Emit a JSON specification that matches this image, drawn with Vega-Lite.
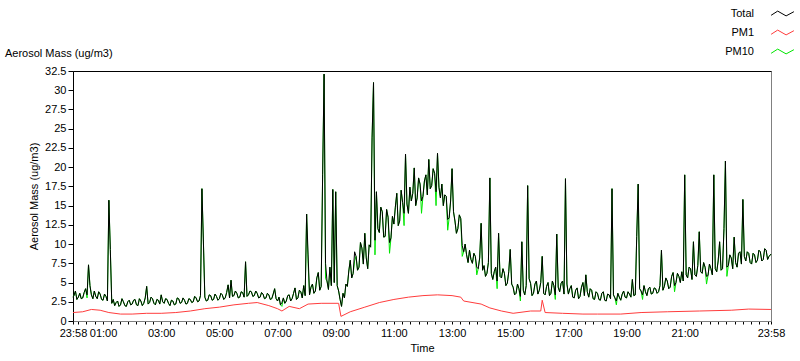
{
  "$schema": "https://vega.github.io/schema/vega-lite/v6.json",
  "autosize": "none",
  "width": 698,
  "height": 250,
  "padding": {"left": 73, "top": 71, "right": 29, "bottom": 40},
  "background": "white",
  "title": {"text": "Aerosol Mass (ug/m3)", "anchor": "start", "frame": "group", "dx": -68, "offset": -52, "fontSize": 11, "fontWeight": "normal", "font": "Liberation Sans", "color": "black"},
  "datasets": {
    "main": [
      {"t":-0.033,"a":3.1,"b":3.1},
      {"t":0.0,"a":3.3,"b":3.3},{"t":0.05,"a":3.9,"b":3.9},{"t":0.1,"a":2.8,"b":2.8},{"t":0.15,"a":3.1,"b":3.1},{"t":0.2,"a":3.6,"b":3.6},{"t":0.25,"a":2.9,"b":2.9},{"t":0.3,"a":3.0,"b":3.0},{"t":0.35,"a":3.7,"b":3.7},{"t":0.4,"a":4.2,"b":4.2},{"t":0.45,"a":3.4,"b":3.0},
      {"t":0.5,"a":7.3,"b":7.3},{"t":0.55,"a":4.6,"b":4.6},{"t":0.6,"a":3.4,"b":3.4},{"t":0.65,"a":2.9,"b":2.9},{"t":0.7,"a":3.9,"b":3.9},{"t":0.75,"a":3.2,"b":3.2},{"t":0.8,"a":2.9,"b":2.9},{"t":0.85,"a":3.8,"b":3.8},{"t":0.9,"a":3.5,"b":3.5},{"t":0.95,"a":2.8,"b":2.8},
      {"t":1.0,"a":2.7,"b":2.7},{"t":1.05,"a":3.5,"b":3.5},{"t":1.1,"a":3.2,"b":3.2},{"t":1.15,"a":2.6,"b":2.6},{"t":1.2,"a":15.7,"b":15.7},{"t":1.25,"a":9.3,"b":9.3},{"t":1.3,"a":2.3,"b":2.3},{"t":1.35,"a":2.8,"b":2.8},{"t":1.4,"a":2.0,"b":2.0},{"t":1.45,"a":2.4,"b":2.4},
      {"t":1.5,"a":2.6,"b":2.6},{"t":1.55,"a":1.9,"b":1.9},{"t":1.6,"a":2.1,"b":2.1},{"t":1.65,"a":2.9,"b":2.9},{"t":1.7,"a":2.5,"b":2.5},{"t":1.75,"a":2.0,"b":2.0},{"t":1.8,"a":1.9,"b":1.9},{"t":1.85,"a":2.5,"b":2.5},{"t":1.9,"a":2.7,"b":2.7},{"t":1.95,"a":2.1,"b":2.1},
      {"t":2.0,"a":2.2,"b":2.2},{"t":2.05,"a":2.7,"b":2.7},{"t":2.1,"a":2.8,"b":2.8},{"t":2.15,"a":2.1,"b":2.1},{"t":2.2,"a":2.0,"b":2.0},{"t":2.25,"a":2.9,"b":2.9},{"t":2.3,"a":2.6,"b":2.6},{"t":2.35,"a":2.0,"b":2.0},{"t":2.4,"a":2.3,"b":2.3},{"t":2.45,"a":3.0,"b":3.0},
      {"t":2.5,"a":4.5,"b":4.5},{"t":2.55,"a":2.2,"b":2.2},{"t":2.6,"a":2.4,"b":2.4},{"t":2.65,"a":3.1,"b":3.1},{"t":2.7,"a":2.9,"b":2.9},{"t":2.75,"a":2.3,"b":2.3},{"t":2.8,"a":2.1,"b":2.1},{"t":2.85,"a":2.8,"b":2.8},{"t":2.9,"a":2.7,"b":2.7},{"t":2.95,"a":2.2,"b":2.2},
      {"t":3.0,"a":3.4,"b":3.4},{"t":3.05,"a":2.5,"b":2.5},{"t":3.1,"a":2.3,"b":2.3},{"t":3.15,"a":2.9,"b":2.9},{"t":3.2,"a":2.8,"b":2.8},{"t":3.25,"a":2.3,"b":2.3},{"t":3.3,"a":2.0,"b":2.0},{"t":3.35,"a":2.7,"b":2.7},{"t":3.4,"a":2.6,"b":2.6},{"t":3.45,"a":2.1,"b":2.1},
      {"t":3.5,"a":2.2,"b":2.2},{"t":3.55,"a":3.0,"b":3.0},{"t":3.6,"a":2.9,"b":2.9},{"t":3.65,"a":2.3,"b":2.3},{"t":3.7,"a":2.4,"b":2.4},{"t":3.75,"a":3.0,"b":3.0},{"t":3.8,"a":2.7,"b":2.7},{"t":3.85,"a":2.2,"b":2.2},{"t":3.9,"a":2.3,"b":2.3},{"t":3.95,"a":2.9,"b":2.9},
      {"t":4.0,"a":2.8,"b":2.8},{"t":4.05,"a":2.4,"b":2.4},{"t":4.1,"a":2.5,"b":2.5},{"t":4.15,"a":3.2,"b":3.2},{"t":4.2,"a":3.0,"b":3.0},{"t":4.25,"a":2.5,"b":2.5},{"t":4.3,"a":2.6,"b":2.6},{"t":4.35,"a":3.3,"b":3.3},{"t":4.4,"a":17.2,"b":17.2},{"t":4.45,"a":10.4,"b":10.4},
      {"t":4.5,"a":3.1,"b":3.1},{"t":4.55,"a":2.6,"b":2.6},{"t":4.6,"a":2.7,"b":2.7},{"t":4.65,"a":3.4,"b":3.4},{"t":4.7,"a":3.3,"b":3.3},{"t":4.75,"a":2.7,"b":2.7},{"t":4.8,"a":2.8,"b":2.8},{"t":4.85,"a":3.5,"b":3.5},{"t":4.9,"a":3.2,"b":3.2},{"t":4.95,"a":2.7,"b":2.7},
      {"t":5.0,"a":2.9,"b":2.9},{"t":5.05,"a":3.6,"b":3.6},{"t":5.1,"a":3.4,"b":3.4},{"t":5.15,"a":2.8,"b":2.8},{"t":5.2,"a":3.0,"b":3.0},{"t":5.25,"a":3.7,"b":3.7},{"t":5.3,"a":4.7,"b":4.7},{"t":5.35,"a":3.0,"b":3.0},{"t":5.4,"a":5.3,"b":5.3},{"t":5.45,"a":3.2,"b":3.2},
      {"t":5.5,"a":3.3,"b":3.3},{"t":5.55,"a":3.9,"b":3.9},{"t":5.6,"a":3.6,"b":3.6},{"t":5.65,"a":3.0,"b":3.0},{"t":5.7,"a":3.1,"b":3.1},{"t":5.75,"a":3.8,"b":3.8},{"t":5.8,"a":3.7,"b":3.7},{"t":5.85,"a":3.1,"b":3.1},{"t":5.9,"a":7.7,"b":7.7},{"t":5.95,"a":3.2,"b":3.2},
      {"t":6.0,"a":3.4,"b":3.4},{"t":6.05,"a":3.9,"b":3.9},{"t":6.1,"a":3.8,"b":3.8},{"t":6.15,"a":3.2,"b":3.2},{"t":6.2,"a":3.3,"b":3.3},{"t":6.25,"a":3.9,"b":3.9},{"t":6.3,"a":3.6,"b":3.6},{"t":6.35,"a":3.0,"b":3.0},{"t":6.4,"a":3.1,"b":3.1},{"t":6.45,"a":3.7,"b":3.7},
      {"t":6.5,"a":3.5,"b":3.5},{"t":6.55,"a":2.9,"b":2.9},{"t":6.6,"a":3.0,"b":3.0},{"t":6.65,"a":3.6,"b":3.6},{"t":6.7,"a":3.4,"b":3.4},{"t":6.75,"a":2.8,"b":2.8},{"t":6.8,"a":2.9,"b":2.9},{"t":6.85,"a":3.5,"b":3.5},{"t":6.9,"a":4.2,"b":4.2},{"t":6.95,"a":2.9,"b":2.9},
      {"t":7.0,"a":2.6,"b":2.6},{"t":7.05,"a":3.1,"b":3.1},{"t":7.1,"a":2.1,"b":2.1},{"t":7.15,"a":2.4,"b":1.9},{"t":7.2,"a":3.0,"b":3.0},{"t":7.25,"a":2.3,"b":2.3},{"t":7.3,"a":2.6,"b":2.6},{"t":7.35,"a":3.3,"b":3.3},{"t":7.4,"a":3.4,"b":3.4},{"t":7.45,"a":2.6,"b":2.6},
      {"t":7.5,"a":2.9,"b":2.9},{"t":7.55,"a":3.6,"b":3.6},{"t":7.6,"a":4.3,"b":4.3},{"t":7.65,"a":2.8,"b":2.8},{"t":7.7,"a":3.0,"b":3.0},{"t":7.75,"a":4.0,"b":4.0},{"t":7.8,"a":3.8,"b":3.8},{"t":7.85,"a":3.0,"b":3.0},{"t":7.9,"a":4.6,"b":4.6},{"t":7.95,"a":3.3,"b":3.3},
      {"t":8.0,"a":13.9,"b":13.9},{"t":8.05,"a":8.7,"b":7.5},{"t":8.1,"a":3.4,"b":3.4},{"t":8.15,"a":4.4,"b":4.4},{"t":8.2,"a":4.8,"b":4.8},{"t":8.25,"a":3.6,"b":3.6},{"t":8.3,"a":3.9,"b":3.9},{"t":8.35,"a":5.6,"b":5.6},{"t":8.4,"a":6.3,"b":6.3},{"t":8.45,"a":4.0,"b":4.0},
      {"t":8.5,"a":4.5,"b":4.5},{"t":8.55,"a":19.0,"b":19.0},{"t":8.6,"a":32.1,"b":32.1},{"t":8.65,"a":7.5,"b":5.5},{"t":8.7,"a":5.2,"b":5.2},{"t":8.75,"a":4.1,"b":4.1},{"t":8.8,"a":7.0,"b":7.0},{"t":8.85,"a":4.6,"b":4.6},{"t":8.9,"a":17.1,"b":17.1},{"t":8.95,"a":5.0,"b":5.0},
      {"t":9.0,"a":16.8,"b":16.8},{"t":9.05,"a":4.6,"b":4.6},{"t":9.1,"a":3.9,"b":3.9},{"t":9.15,"a":2.8,"b":2.8},{"t":9.2,"a":1.9,"b":1.9},{"t":9.25,"a":3.6,"b":3.6},{"t":9.3,"a":3.0,"b":3.0},{"t":9.35,"a":4.8,"b":4.8},{"t":9.4,"a":4.5,"b":4.5},{"t":9.45,"a":6.5,"b":6.5},
      {"t":9.5,"a":7.9,"b":7.9},{"t":9.55,"a":5.6,"b":5.6},{"t":9.6,"a":6.2,"b":6.2},{"t":9.65,"a":9.0,"b":7.8},{"t":9.7,"a":8.4,"b":8.4},{"t":9.75,"a":6.6,"b":6.6},{"t":9.8,"a":7.0,"b":7.0},{"t":9.85,"a":10.2,"b":10.2},{"t":9.9,"a":9.5,"b":9.5},{"t":9.95,"a":7.4,"b":7.4},
      {"t":10.0,"a":11.4,"b":11.4},{"t":10.05,"a":8.2,"b":8.2},{"t":10.1,"a":6.8,"b":6.8},{"t":10.15,"a":9.9,"b":9.9},{"t":10.2,"a":9.6,"b":9.6},{"t":10.25,"a":23.8,"b":23.8},{"t":10.3,"a":31.0,"b":31.0},{"t":10.35,"a":10.5,"b":8.6},{"t":10.4,"a":16.8,"b":16.8},{"t":10.45,"a":12.0,"b":12.0},
      {"t":10.5,"a":11.5,"b":11.5},{"t":10.55,"a":14.8,"b":14.8},{"t":10.6,"a":14.2,"b":14.2},{"t":10.65,"a":10.9,"b":10.9},{"t":10.7,"a":11.0,"b":11.0},{"t":10.75,"a":14.5,"b":14.5},{"t":10.8,"a":13.5,"b":13.5},{"t":10.85,"a":10.2,"b":8.8},{"t":10.9,"a":10.8,"b":10.8},{"t":10.95,"a":13.6,"b":13.6},
      {"t":11.0,"a":12.6,"b":12.6},{"t":11.05,"a":14.8,"b":14.8},{"t":11.1,"a":16.6,"b":16.6},{"t":11.15,"a":12.4,"b":12.4},{"t":11.2,"a":13.0,"b":13.0},{"t":11.25,"a":17.0,"b":17.0},{"t":11.3,"a":15.4,"b":15.4},{"t":11.35,"a":14.0,"b":12.4},{"t":11.4,"a":21.7,"b":21.7},{"t":11.45,"a":15.2,"b":15.2},
      {"t":11.5,"a":14.0,"b":14.0},{"t":11.55,"a":17.4,"b":17.4},{"t":11.6,"a":15.6,"b":15.6},{"t":11.65,"a":16.6,"b":16.6},{"t":11.7,"a":19.9,"b":19.9},{"t":11.75,"a":15.0,"b":15.0},{"t":11.8,"a":16.0,"b":16.0},{"t":11.85,"a":18.6,"b":18.6},{"t":11.9,"a":17.8,"b":17.8},{"t":11.95,"a":15.6,"b":14.0},
      {"t":12.0,"a":16.2,"b":16.2},{"t":12.05,"a":18.2,"b":18.2},{"t":12.1,"a":19.0,"b":19.0},{"t":12.15,"a":16.4,"b":16.4},{"t":12.2,"a":21.0,"b":21.0},{"t":12.25,"a":17.2,"b":17.2},{"t":12.3,"a":17.6,"b":17.6},{"t":12.35,"a":19.8,"b":19.8},{"t":12.4,"a":19.2,"b":19.2},{"t":12.45,"a":16.8,"b":15.0},
      {"t":12.5,"a":21.8,"b":21.8},{"t":12.55,"a":17.4,"b":17.4},{"t":12.6,"a":16.0,"b":16.0},{"t":12.65,"a":17.8,"b":17.8},{"t":12.7,"a":15.0,"b":15.0},{"t":12.75,"a":16.4,"b":16.4},{"t":12.8,"a":16.2,"b":16.2},{"t":12.85,"a":13.2,"b":11.8},{"t":12.9,"a":13.4,"b":13.4},{"t":12.95,"a":15.6,"b":15.6},
      {"t":13.0,"a":19.8,"b":19.8},{"t":13.05,"a":14.2,"b":14.2},{"t":13.1,"a":13.0,"b":13.0},{"t":13.15,"a":11.4,"b":11.4},{"t":13.2,"a":12.0,"b":12.0},{"t":13.25,"a":13.8,"b":13.8},{"t":13.3,"a":13.3,"b":13.3},{"t":13.35,"a":9.8,"b":8.4},{"t":13.4,"a":9.0,"b":9.0},{"t":13.45,"a":10.0,"b":10.0},
      {"t":13.5,"a":8.6,"b":8.6},{"t":13.55,"a":7.6,"b":7.6},{"t":13.6,"a":9.2,"b":9.2},{"t":13.65,"a":8.0,"b":8.0},{"t":13.7,"a":7.5,"b":7.5},{"t":13.75,"a":8.8,"b":8.8},{"t":13.8,"a":8.4,"b":8.4},{"t":13.85,"a":7.0,"b":6.0},{"t":13.9,"a":6.8,"b":6.8},{"t":13.95,"a":8.2,"b":8.2},
      {"t":14.0,"a":12.7,"b":12.7},{"t":14.05,"a":6.6,"b":6.6},{"t":14.1,"a":7.2,"b":7.2},{"t":14.15,"a":5.8,"b":5.8},{"t":14.2,"a":6.2,"b":6.2},{"t":14.25,"a":7.6,"b":7.6},{"t":14.3,"a":18.6,"b":18.6},{"t":14.35,"a":6.2,"b":6.2},{"t":14.4,"a":5.4,"b":5.4},{"t":14.45,"a":6.4,"b":6.4},
      {"t":14.5,"a":7.0,"b":7.0},{"t":14.55,"a":5.2,"b":4.2},{"t":14.6,"a":11.4,"b":11.4},{"t":14.65,"a":5.8,"b":5.8},{"t":14.7,"a":5.6,"b":5.6},{"t":14.75,"a":6.8,"b":6.8},{"t":14.8,"a":6.2,"b":6.2},{"t":14.85,"a":4.6,"b":4.6},{"t":14.9,"a":4.9,"b":4.9},{"t":14.95,"a":6.4,"b":6.4},
      {"t":15.0,"a":9.3,"b":9.3},{"t":15.05,"a":4.8,"b":4.8},{"t":15.1,"a":4.4,"b":4.4},{"t":15.15,"a":3.4,"b":3.4},{"t":15.2,"a":3.6,"b":3.6},{"t":15.25,"a":4.8,"b":4.8},{"t":15.3,"a":4.2,"b":4.2},{"t":15.35,"a":3.2,"b":2.6},{"t":15.4,"a":10.3,"b":10.3},{"t":15.45,"a":4.0,"b":4.0},
      {"t":15.5,"a":3.4,"b":3.4},{"t":15.55,"a":4.6,"b":4.6},{"t":15.6,"a":17.6,"b":17.6},{"t":15.65,"a":5.5,"b":5.5},{"t":15.7,"a":4.9,"b":4.9},{"t":15.75,"a":3.3,"b":3.3},{"t":15.8,"a":3.6,"b":3.6},{"t":15.85,"a":4.8,"b":4.8},{"t":15.9,"a":5.2,"b":5.2},{"t":15.95,"a":3.5,"b":3.5},
      {"t":16.0,"a":4.0,"b":4.0},{"t":16.05,"a":5.0,"b":5.0},{"t":16.1,"a":8.4,"b":8.4},{"t":16.15,"a":3.6,"b":3.6},{"t":16.2,"a":3.4,"b":3.4},{"t":16.25,"a":4.5,"b":4.5},{"t":16.3,"a":5.0,"b":5.0},{"t":16.35,"a":3.3,"b":3.3},{"t":16.4,"a":3.6,"b":3.6},{"t":16.45,"a":5.2,"b":5.2},
      {"t":16.5,"a":4.6,"b":4.6},{"t":16.55,"a":3.4,"b":2.8},{"t":16.6,"a":11.3,"b":11.3},{"t":16.65,"a":4.4,"b":4.4},{"t":16.7,"a":3.8,"b":3.8},{"t":16.75,"a":4.9,"b":4.9},{"t":16.8,"a":5.2,"b":5.2},{"t":16.85,"a":3.5,"b":3.5},{"t":16.9,"a":18.5,"b":18.5},{"t":16.95,"a":4.8,"b":4.8},
      {"t":17.0,"a":3.5,"b":3.5},{"t":17.05,"a":4.2,"b":4.2},{"t":17.1,"a":4.6,"b":4.6},{"t":17.15,"a":3.1,"b":3.1},{"t":17.2,"a":3.0,"b":3.0},{"t":17.25,"a":4.0,"b":4.0},{"t":17.3,"a":4.3,"b":4.3},{"t":17.35,"a":2.9,"b":2.9},{"t":17.4,"a":3.2,"b":3.2},{"t":17.45,"a":4.4,"b":4.4},
      {"t":17.5,"a":5.0,"b":5.0},{"t":17.55,"a":3.3,"b":3.3},{"t":17.6,"a":6.0,"b":6.0},{"t":17.65,"a":3.8,"b":3.8},{"t":17.7,"a":3.1,"b":3.1},{"t":17.75,"a":4.2,"b":4.2},{"t":17.8,"a":4.0,"b":4.0},{"t":17.85,"a":2.9,"b":2.9},{"t":17.9,"a":2.8,"b":2.8},{"t":17.95,"a":3.8,"b":3.8},
      {"t":18.0,"a":3.6,"b":3.6},{"t":18.05,"a":2.8,"b":2.8},{"t":18.1,"a":2.7,"b":2.7},{"t":18.15,"a":3.6,"b":3.6},{"t":18.2,"a":3.8,"b":3.8},{"t":18.25,"a":2.7,"b":2.7},{"t":18.3,"a":2.6,"b":2.6},{"t":18.35,"a":3.5,"b":3.5},{"t":18.4,"a":3.4,"b":3.4},{"t":18.45,"a":2.9,"b":2.9},
      {"t":18.5,"a":17.2,"b":17.2},{"t":18.55,"a":3.4,"b":3.4},{"t":18.6,"a":3.0,"b":3.0},{"t":18.65,"a":2.6,"b":2.1},{"t":18.7,"a":3.6,"b":3.6},{"t":18.75,"a":3.1,"b":3.1},{"t":18.8,"a":2.7,"b":2.7},{"t":18.85,"a":3.5,"b":3.5},{"t":18.9,"a":3.9,"b":3.9},{"t":18.95,"a":3.1,"b":3.1},
      {"t":19.0,"a":3.0,"b":3.0},{"t":19.05,"a":3.8,"b":3.8},{"t":19.1,"a":3.5,"b":3.5},{"t":19.15,"a":3.1,"b":3.1},{"t":19.2,"a":5.4,"b":5.4},{"t":19.25,"a":3.3,"b":3.3},{"t":19.3,"a":3.4,"b":3.4},{"t":19.35,"a":11.0,"b":11.0},{"t":19.4,"a":17.8,"b":17.8},{"t":19.45,"a":4.2,"b":4.2},
      {"t":19.5,"a":3.9,"b":3.9},{"t":19.55,"a":3.4,"b":2.8},{"t":19.6,"a":4.6,"b":4.6},{"t":19.65,"a":3.8,"b":3.8},{"t":19.7,"a":3.3,"b":3.3},{"t":19.75,"a":4.2,"b":4.2},{"t":19.8,"a":4.4,"b":4.4},{"t":19.85,"a":3.5,"b":3.5},{"t":19.9,"a":3.6,"b":3.6},{"t":19.95,"a":4.3,"b":4.3},
      {"t":20.0,"a":4.2,"b":4.2},{"t":20.05,"a":3.6,"b":3.6},{"t":20.1,"a":3.8,"b":3.8},{"t":20.15,"a":4.6,"b":4.6},{"t":20.2,"a":9.2,"b":9.2},{"t":20.25,"a":4.0,"b":4.0},{"t":20.3,"a":4.5,"b":4.5},{"t":20.35,"a":5.6,"b":5.6},{"t":20.4,"a":5.2,"b":5.2},{"t":20.45,"a":4.2,"b":4.2},
      {"t":20.5,"a":4.4,"b":4.4},{"t":20.55,"a":5.8,"b":5.8},{"t":20.6,"a":6.3,"b":6.3},{"t":20.65,"a":4.6,"b":3.8},{"t":20.7,"a":5.0,"b":5.0},{"t":20.75,"a":6.2,"b":6.2},{"t":20.8,"a":5.8,"b":5.8},{"t":20.85,"a":5.0,"b":5.0},{"t":20.9,"a":6.4,"b":6.4},{"t":20.95,"a":5.2,"b":5.2},
      {"t":21.0,"a":19.0,"b":19.0},{"t":21.05,"a":6.0,"b":6.0},{"t":21.1,"a":5.6,"b":5.6},{"t":21.15,"a":7.0,"b":7.0},{"t":21.2,"a":6.8,"b":6.8},{"t":21.25,"a":5.4,"b":5.4},{"t":21.3,"a":10.3,"b":10.3},{"t":21.35,"a":6.0,"b":6.0},{"t":21.4,"a":5.8,"b":5.8},{"t":21.45,"a":7.2,"b":7.2},
      {"t":21.5,"a":11.6,"b":11.6},{"t":21.55,"a":6.4,"b":6.4},{"t":21.6,"a":6.2,"b":6.2},{"t":21.65,"a":7.6,"b":7.6},{"t":21.7,"a":7.0,"b":7.0},{"t":21.75,"a":5.8,"b":4.8},{"t":21.8,"a":5.9,"b":5.9},{"t":21.85,"a":7.4,"b":7.4},{"t":21.9,"a":6.8,"b":6.8},{"t":21.95,"a":6.0,"b":6.0},
      {"t":22.0,"a":19.0,"b":19.0},{"t":22.05,"a":6.8,"b":6.8},{"t":22.1,"a":6.4,"b":6.4},{"t":22.15,"a":7.8,"b":7.8},{"t":22.2,"a":10.3,"b":10.3},{"t":22.25,"a":6.6,"b":6.6},{"t":22.3,"a":6.8,"b":6.8},{"t":22.35,"a":12.0,"b":12.0},{"t":22.4,"a":20.8,"b":20.8},{"t":22.45,"a":7.0,"b":5.8},
      {"t":22.5,"a":7.2,"b":7.2},{"t":22.55,"a":8.6,"b":8.6},{"t":22.6,"a":8.2,"b":8.2},{"t":22.65,"a":6.8,"b":6.8},{"t":22.7,"a":10.9,"b":10.9},{"t":22.75,"a":7.6,"b":7.6},{"t":22.8,"a":7.0,"b":7.0},{"t":22.85,"a":8.8,"b":8.8},{"t":22.9,"a":9.0,"b":9.0},{"t":22.95,"a":7.4,"b":7.4},
      {"t":23.0,"a":15.8,"b":15.8},{"t":23.05,"a":8.4,"b":8.4},{"t":23.1,"a":7.8,"b":7.8},{"t":23.15,"a":9.0,"b":9.0},{"t":23.2,"a":8.8,"b":8.8},{"t":23.25,"a":7.6,"b":7.6},{"t":23.3,"a":7.4,"b":7.4},{"t":23.35,"a":8.8,"b":8.8},{"t":23.4,"a":8.6,"b":8.6},{"t":23.45,"a":7.6,"b":7.6},
      {"t":23.5,"a":7.9,"b":7.9},{"t":23.55,"a":9.2,"b":9.2},{"t":23.6,"a":9.0,"b":9.0},{"t":23.65,"a":7.8,"b":7.8},{"t":23.7,"a":8.0,"b":8.0},{"t":23.75,"a":9.4,"b":9.4},{"t":23.8,"a":9.2,"b":9.2},{"t":23.85,"a":8.0,"b":8.0},{"t":23.9,"a":8.4,"b":8.4},{"t":23.967,"a":8.7,"b":8.7}
    ],
    "pm1": [
      {"t":-0.033,"v":1.1},{"t":0.3,"v":1.2},{"t":0.6,"v":1.5},{"t":0.9,"v":1.4},{"t":1.2,"v":1.1},{"t":1.6,"v":0.9},{"t":2.0,"v":0.9},{"t":2.5,"v":1.0},
      {"t":3.0,"v":1.0},{"t":3.5,"v":1.1},{"t":4.0,"v":1.3},{"t":4.5,"v":1.6},{"t":5.0,"v":1.8},{"t":5.5,"v":2.1},{"t":6.0,"v":2.3},{"t":6.3,"v":2.4},
      {"t":6.7,"v":2.0},{"t":7.0,"v":1.6},{"t":7.15,"v":1.3},{"t":7.4,"v":1.9},{"t":7.75,"v":1.6},{"t":8.05,"v":2.2},{"t":8.5,"v":2.3},{"t":9.1,"v":2.3},
      {"t":9.18,"v":0.6},{"t":9.5,"v":1.2},{"t":10.0,"v":1.8},{"t":10.5,"v":2.4},{"t":11.0,"v":2.8},{"t":11.5,"v":3.1},{"t":12.0,"v":3.3},{"t":12.5,"v":3.4},
      {"t":13.0,"v":3.3},{"t":13.3,"v":3.1},{"t":13.4,"v":2.6},{"t":14.0,"v":2.2},{"t":14.3,"v":1.7},{"t":14.7,"v":1.3},{"t":15.1,"v":1.0},{"t":15.7,"v":1.3},
      {"t":16.05,"v":1.3},{"t":16.1,"v":2.7},{"t":16.2,"v":1.1},{"t":16.8,"v":1.0},{"t":17.5,"v":0.9},{"t":18.0,"v":0.9},{"t":18.8,"v":0.9},{"t":19.5,"v":1.1},
      {"t":20.4,"v":1.2},{"t":21.5,"v":1.3},{"t":22.6,"v":1.4},{"t":23.2,"v":1.55},{"t":23.967,"v":1.5}
    ]
  },
  "resolve": {"axis": {"x": "independent"}},
  "layer": [
    {
      "data": {"name": "main"},
      "mark": {"type": "line", "strokeWidth": 1},
      "encoding": {
        "x": {"field": "t", "type": "quantitative", "scale": {"domain": [-0.0333, 23.9667], "nice": false, "zero": false}, "axis": null},
        "y": {"field": "b", "type": "quantitative", "scale": {"domain": [0, 32.5], "nice": false},
              "axis": {"values": [0,2.5,5,7.5,10,12.5,15,17.5,20,22.5,25,27.5,30,32.5], "labelExpr": "'' + datum.value", "labelOverlap": false, "title": "Aerosol Mass (ug/m3)", "tickSize": 5, "labelPadding": 2, "titlePadding": 5, "domainColor": "black", "tickColor": "black"}},
        "color": {"datum": "PM10", "type": "nominal", "scale": {"domain": ["Total", "PM1", "PM10"], "range": ["#000000", "#ff3c3c", "#00e600"]},
                  "legend": {"title": null, "orient": "none", "legendX": 703, "legendY": -64, "padding": 0, "rowPadding": 7, "symbolType": "M-1.9,0.3L-0.8,-0.4L0.6,0.4L1.9,-0.3", "symbolSize": 144, "symbolStrokeWidth": 1, "labelAlign": "right", "labelOffset": -35, "labelFont": "Liberation Sans", "labelFontSize": 11, "labelColor": "black"}}
      }
    },
    {
      "data": {"name": "pm1"},
      "mark": {"type": "line", "strokeWidth": 1},
      "encoding": {
        "x": {"field": "t", "type": "quantitative", "axis": {"orient": "top", "labels": false, "ticks": false, "title": null, "domainColor": "black"}},
        "y": {"field": "v", "type": "quantitative",
              "axis": {"values": [0,2.5,5,7.5,10,12.5,15,17.5,20,22.5,25,27.5,30,32.5], "labelExpr": "'' + datum.value", "labelOverlap": false, "title": "Aerosol Mass (ug/m3)", "tickSize": 5, "labelPadding": 2, "titlePadding": 5, "domainColor": "black", "tickColor": "black"}},
        "color": {"datum": "PM1", "type": "nominal"}
      }
    },
    {
      "data": {"name": "main"},
      "mark": {"type": "line", "strokeWidth": 1},
      "encoding": {
        "x": {"field": "t", "type": "quantitative",
              "axis": {"title": "Time", "orient": "bottom", "domainColor": "#808080", "tickColor": "black", "tickSize": 3, "labelPadding": 3, "titlePadding": 4, "labelFlush": false, "labelOverlap": false,
                       "values": [-0.0333,0.143,0.429,0.714,1,1.286,1.571,1.857,2.143,2.429,2.714,3,3.286,3.571,3.857,4.143,4.429,4.714,5,5.286,5.571,5.857,6.143,6.429,6.714,7,7.286,7.571,7.857,8.143,8.429,8.714,9,9.286,9.571,9.857,10.143,10.429,10.714,11,11.286,11.571,11.857,12.143,12.429,12.714,13,13.286,13.571,13.857,14.143,14.429,14.714,15,15.286,15.571,15.857,16.143,16.429,16.714,17,17.286,17.571,17.857,18.143,18.429,18.714,19,19.286,19.571,19.857,20.143,20.429,20.714,21,21.286,21.571,21.857,22.143,22.429,22.714,23,23.286,23.571,23.857,23.9667],
                       "labelExpr": "datum.value < 0 || datum.value > 23.9 ? '23:58' : (abs(datum.value - round(datum.value)) < 0.01 && datum.value < 22.5 ? ((datum.value < 10 ? '0' : '') + round(datum.value) + ':00') : '')"}},
        "y": {"field": "a", "type": "quantitative",
              "axis": {"values": [0,2.5,5,7.5,10,12.5,15,17.5,20,22.5,25,27.5,30,32.5], "labelExpr": "'' + datum.value", "labelOverlap": false, "title": "Aerosol Mass (ug/m3)", "tickSize": 5, "labelPadding": 2, "titlePadding": 5, "domainColor": "black", "tickColor": "black"}},
        "color": {"datum": "Total", "type": "nominal"}
      }
    }
  ],
  "config": {
    "view": {"stroke": "#808080"},
    "axis": {"labelFont": "Liberation Sans", "labelFontSize": 11, "labelColor": "black", "titleFont": "Liberation Sans", "titleFontSize": 11, "titleFontWeight": "normal", "titleColor": "black", "grid": false},
    "axisY": {"labelOverlap": false}
  }
}
